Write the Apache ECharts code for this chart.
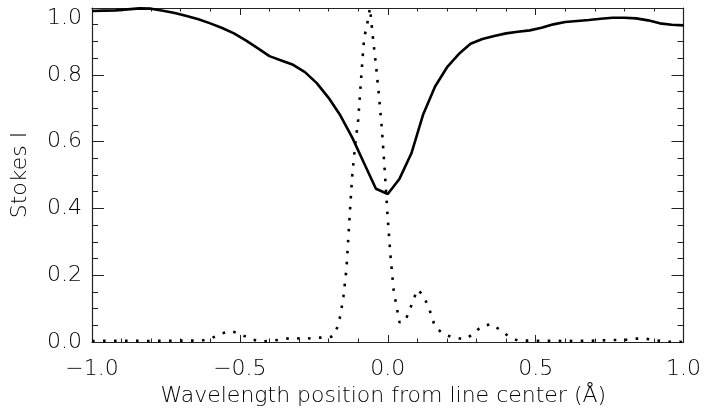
<!DOCTYPE html>
<html>
<head>
<meta charset="utf-8">
<script src="https://cdn.jsdelivr.net/npm/echarts@6/dist/echarts.min.js"></script>
<style>
  html, body { margin: 0; padding: 0; background: #fff; }
  #chart { width: 704px; height: 413px; }
</style>
</head>
<body>
<div id="chart"></div>
<script>
// Stokes I profile (solid)
const profileX = [
  -1.00, -0.96, -0.92, -0.88, -0.84, -0.80, -0.76, -0.72, -0.68, -0.64,
  -0.60, -0.56, -0.52, -0.48, -0.44, -0.40, -0.36, -0.32, -0.28, -0.24,
  -0.20, -0.16, -0.12, -0.08, -0.04, 0.00, 0.04, 0.08, 0.12, 0.16,
  0.20, 0.24, 0.28, 0.32, 0.36, 0.40, 0.44, 0.48, 0.52, 0.56,
  0.60, 0.64, 0.68, 0.72, 0.76, 0.80, 0.84, 0.88, 0.92, 0.96, 1.00
];
const profileI = [
  0.991, 0.992, 0.993, 0.996, 0.999, 0.998, 0.992, 0.985, 0.976, 0.966,
  0.954, 0.940, 0.924, 0.903, 0.880, 0.856, 0.843, 0.830, 0.808, 0.775,
  0.731, 0.678, 0.612, 0.535, 0.459, 0.443, 0.489, 0.565, 0.682, 0.765,
  0.822, 0.862, 0.893, 0.907, 0.916, 0.924, 0.929, 0.933, 0.941, 0.951,
  0.958, 0.961, 0.964, 0.968, 0.971, 0.971, 0.969, 0.963, 0.954, 0.950, 0.948
];

// dotted curve
const dottedX = [
  -1.00, -0.90, -0.80, -0.70, -0.63, -0.60, -0.56, -0.53, -0.50, -0.46,
  -0.43, -0.39, -0.355, -0.32, -0.285, -0.245, -0.21, -0.19, -0.18, -0.17,
  -0.16, -0.15, -0.14, -0.13, -0.12, -0.11, -0.10, -0.09, -0.08, -0.07,
  -0.06, -0.05, -0.04, -0.03, -0.02, -0.01, 0.00, 0.01, 0.02, 0.03,
  0.04, 0.06, 0.08, 0.10, 0.12, 0.14, 0.16, 0.19, 0.22, 0.26,
  0.29, 0.315, 0.35, 0.38, 0.41, 0.44, 0.50, 0.60, 0.70, 0.76,
  0.80, 0.835, 0.87, 0.90, 0.94, 1.00
];
const dottedY = [
  0.003, 0.004, 0.003, 0.004, 0.004, 0.010, 0.026, 0.033, 0.024, 0.008,
  0.001, 0.004, 0.008, 0.013, 0.009, 0.013, 0.013, 0.016, 0.021, 0.046,
  0.080, 0.135, 0.215, 0.360, 0.500, 0.592, 0.665, 0.790, 0.910, 0.950,
  1.000, 0.910, 0.830, 0.740, 0.640, 0.510, 0.370, 0.250, 0.155, 0.105,
  0.058, 0.065, 0.110, 0.157, 0.140, 0.100, 0.045, 0.023, 0.014, 0.008,
  0.024, 0.046, 0.054, 0.036, 0.016, 0.004, 0.004, 0.003, 0.004, 0.006,
  0.006, 0.010, 0.010, 0.006, 0.001, 0.000
];

const xTicks = { min: -1, max: 1, interval: 0.5 };
const yTicks = { min: 0, max: 1, interval: 0.2 };

const textColor = '#000';
const font = 'DejaVu Sans';
const fontSize = 22;
const fontWeight = 200;

const fmtX = v => v.toFixed(1).replace('-', '\u2212');
const fmtY = v => (Math.abs(v - 1) < 1e-9 ? '{top|' + v.toFixed(1) + '}' : v.toFixed(1));

const txt = { fontFamily: font, fontSize: fontSize, fontWeight: fontWeight, color: textColor };

const axisCommon = {
  type: 'value',
  axisLine: { show: true, onZero: false, lineStyle: { color: '#222', width: 1.2 } },
  splitLine: { show: false },
  minorSplitLine: { show: false },
};

const xAxisBase = (pos, showLabel) => Object.assign({}, axisCommon, {
  position: pos,
  min: xTicks.min, max: xTicks.max, interval: xTicks.interval,
  axisTick: { show: true, inside: true, length: 7, lineStyle: { color: '#222', width: 1 } },
  minorTick: { show: true, splitNumber: 5, length: 3.5, lineStyle: { color: '#222', width: 1 } },
  axisLabel: Object.assign({ show: showLabel, formatter: fmtX, margin: 16 }, txt),
});

const yAxisBase = (pos, showLabel) => Object.assign({}, axisCommon, {
  position: pos,
  min: yTicks.min, max: yTicks.max, interval: yTicks.interval,
  axisTick: { show: true, inside: true, length: 12, lineStyle: { color: '#222', width: 1 } },
  minorTick: { show: true, splitNumber: 4, length: 6, lineStyle: { color: '#222', width: 1 } },
  axisLabel: Object.assign({
    show: showLabel, formatter: fmtY, margin: 10,
    rich: { top: Object.assign({ padding: [20, 0, 0, 0] }, txt) }
  }, txt),
});

const chart = echarts.init(document.getElementById('chart'));
chart.setOption({
  animation: false,
  backgroundColor: '#fff',
  grid: { left: 92, right: 18, top: 8, bottom: 71, containLabel: false },
  xAxis: [
    Object.assign(xAxisBase('bottom', true), {
      name: 'Wavelength position from line center (\u00c5)',
      nameLocation: 'middle', nameGap: 42,
      nameTextStyle: Object.assign({ padding: [0, 9, 0, 0] }, txt)
    }),
    xAxisBase('top', false)
  ],
  yAxis: [
    Object.assign(yAxisBase('left', true), {
      name: 'Stokes I',
      nameLocation: 'middle', nameGap: 61,
      nameTextStyle: txt
    }),
    yAxisBase('right', false)
  ],
  series: [
    {
      type: 'line',
      data: profileX.map((x, i) => [x, profileI[i]]),
      showSymbol: false,
      smooth: false,
      clip: true,
      lineStyle: { color: '#000', width: 2.6 }
    },
    {
      type: 'line',
      data: dottedX.map((x, i) => [x, dottedY[i]]),
      showSymbol: false,
      smooth: false,
      clip: true,
      lineStyle: { color: '#000', width: 2.6, type: [2.6, 8.4], cap: 'butt' }
    }
  ]
});
</script>
</body>
</html>
